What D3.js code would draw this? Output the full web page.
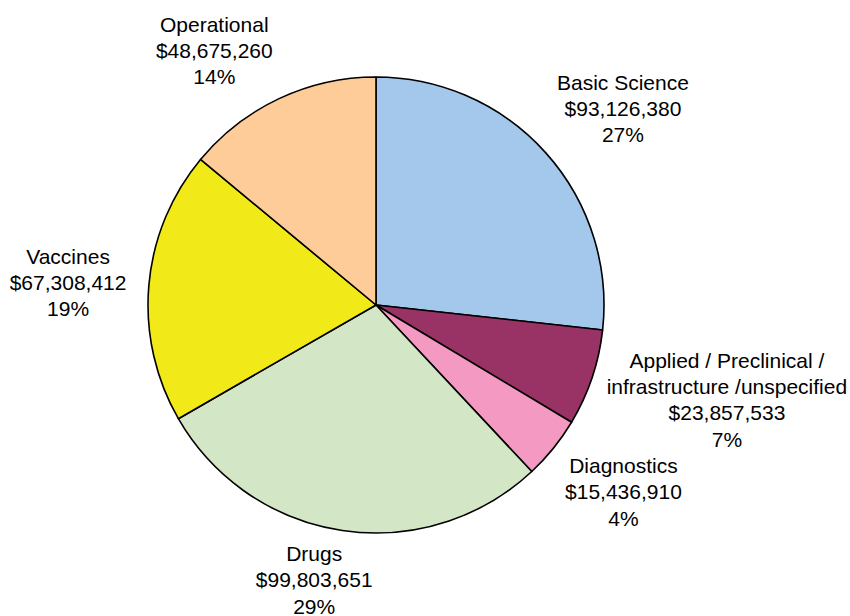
<!DOCTYPE html>
<html>
<head>
<meta charset="utf-8">
<script src="https://cdn.jsdelivr.net/npm/d3@7"></script>
<style>
  html, body { margin: 0; padding: 0; background: #fff; }
  svg text { font-family: "Liberation Sans", Arial, sans-serif; font-size: 21px; fill: #000; }
</style>
</head>
<body>
<svg id="chart" width="850" height="616"></svg>
<script>
// Funding by research category
const categories = ["Basic Science", "Applied / Preclinical /\ninfrastructure /unspecified", "Diagnostics", "Drugs", "Vaccines", "Operational"];
const amounts = [93126380, 23857533, 15436910, 99803651, 67308412, 48675260];
const colors = ["#a3c8eb", "#993366", "#f49ac2", "#d3e6c6", "#f2e919", "#fdcc99"];

const width = 850, height = 616;
const cx = 376, cy = 305, radius = 228;

const svg = d3.select("#chart");
const g = svg.append("g").attr("transform", `translate(${cx},${cy})`);

const data = categories.map((c, i) => ({ category: c, amount: amounts[i], color: colors[i] }));
const total = d3.sum(amounts);

const pie = d3.pie().value(d => d.amount).sort(null);
const arc = d3.arc().innerRadius(0).outerRadius(radius);
const arcs = pie(data);

g.selectAll("path.slice")
  .data(arcs)
  .join("path")
  .attr("class", "slice")
  .attr("d", arc)
  .attr("fill", d => d.data.color)
  .attr("stroke", "#000")
  .attr("stroke-width", 1.6)
  .attr("stroke-linejoin", "round");

const money = d3.format("$,");
const pct = v => Math.round(v * 100) + "%";
const lineH = 26.3;
const gap = 15;
const clamp = v => Math.max(-1, Math.min(1, v));

// Outside-end labels: the box is hung off a point just beyond the rim,
// sliding from edge-centred to corner-anchored as the angle leaves the axes
arcs.forEach(a => {
  const lines = a.data.category.split("\n").concat([money(a.data.amount), pct(a.data.amount / total)]);
  const t = g.append("text").attr("text-anchor", "middle");
  lines.forEach((l, i) => {
    t.append("tspan").attr("x", 0).attr("dy", i === 0 ? 0 : lineH).text(l);
  });
  const w = t.node().getBBox().width;
  const h = lines.length * lineH - 10;
  const mid = (a.startAngle + a.endAngle) / 2;
  const s = Math.sin(mid), c = -Math.cos(mid);
  const px = s * (radius + gap), py = c * (radius + gap);
  const fx = clamp(3 * s);
  const fy = Math.sign(c) * Math.min(1, 2 * Math.pow(Math.abs(c), 1.5));
  // a little extra clearance for labels sitting level with the centre
  const side = s * 10 * Math.max(0, 1 - 3 * Math.abs(c));
  const x = px + fx * w / 2 + side;
  const y = py + fy * h / 2;
  const y0 = y - (lines.length - 1) * lineH / 2 + 7.5;
  t.attr("transform", `translate(${x},${y0})`);
});
</script>
</body>
</html>
